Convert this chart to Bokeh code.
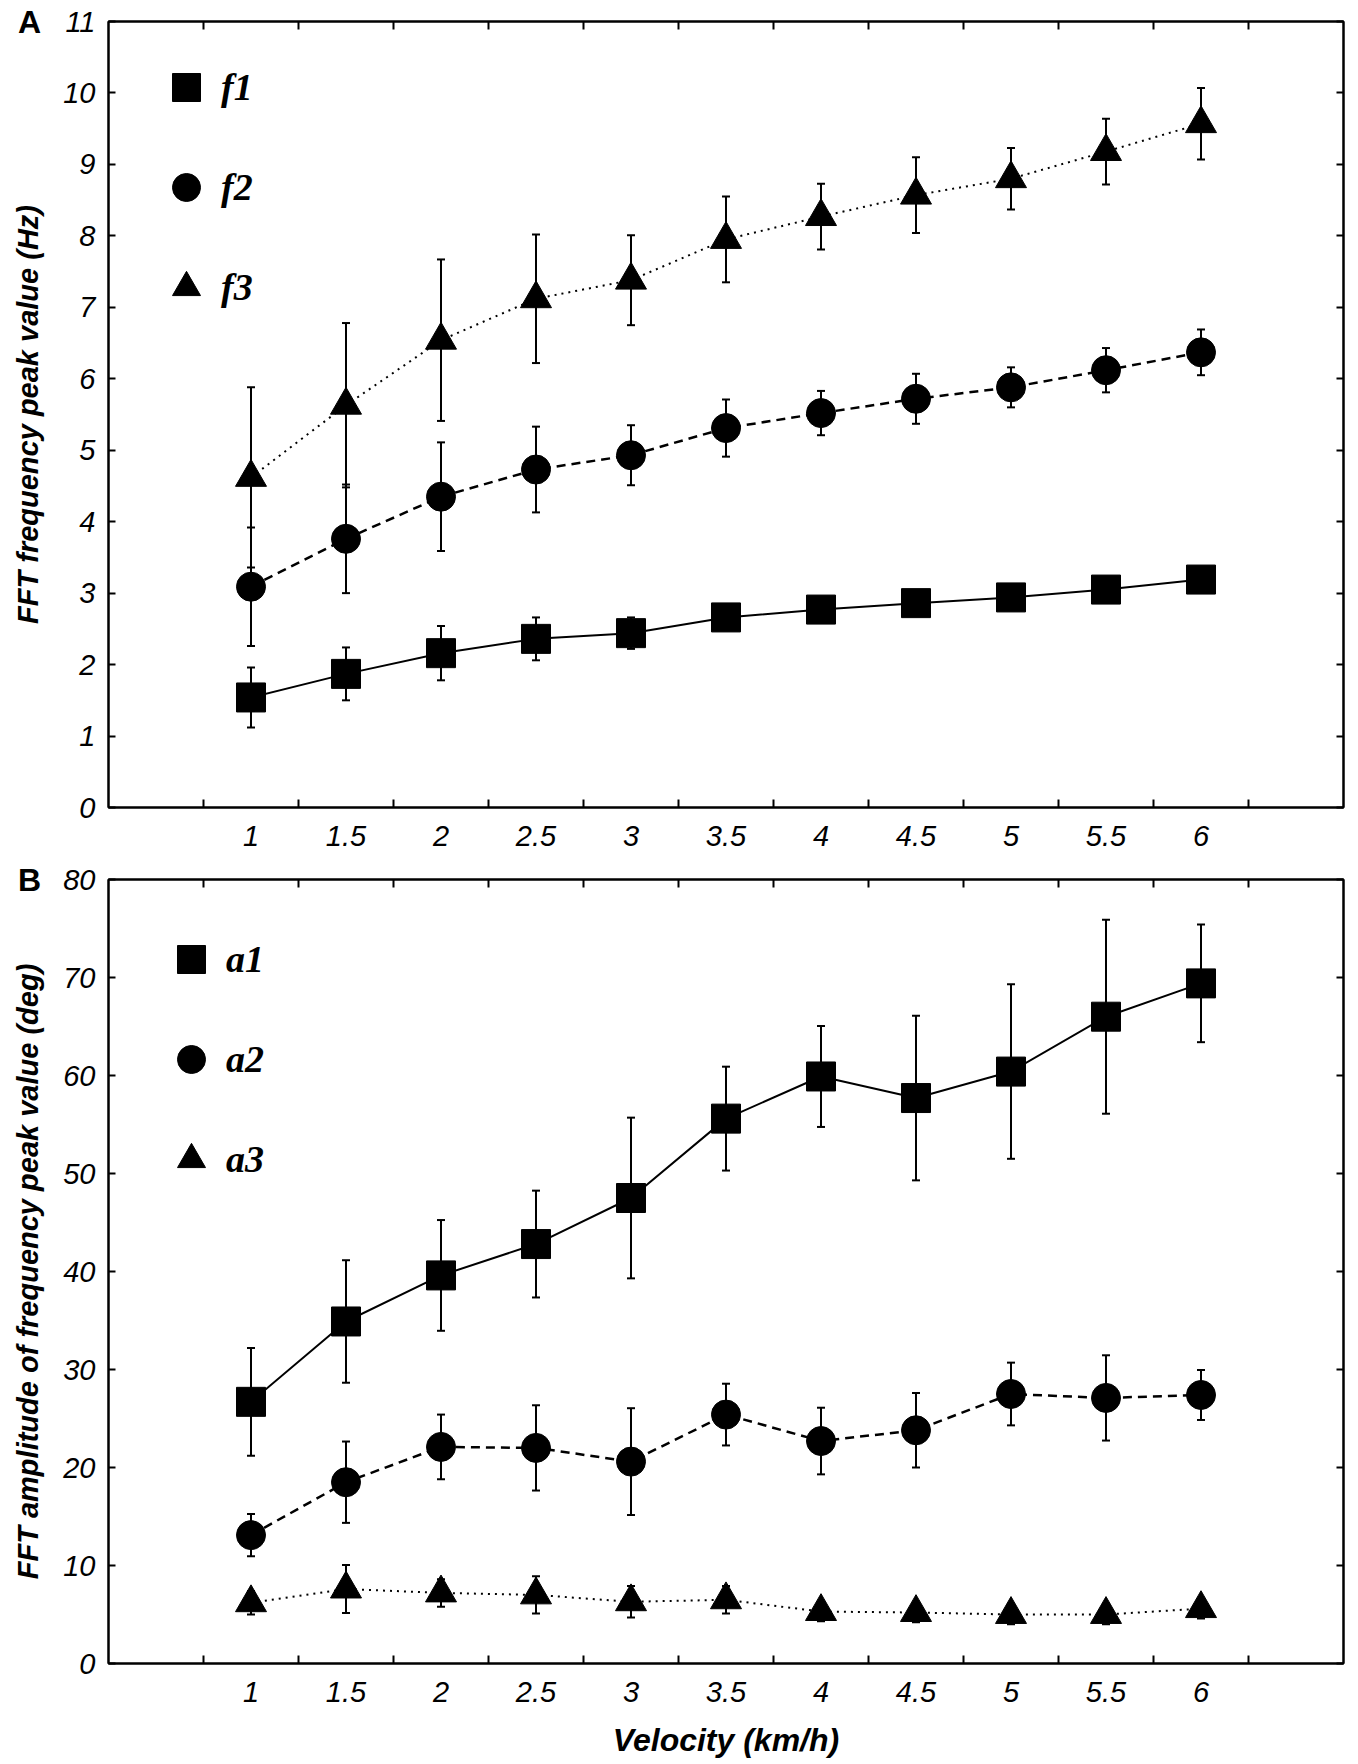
from bokeh.plotting import figure
from bokeh.layouts import column
from bokeh.models import (ColumnDataSource, Range1d, LinearAxis, FixedTicker,
                          CustomJSTickFormatter, Whisker, TeeHead, Legend,
                          LegendItem, Div)
from bokeh.embed import file_html
from bokeh.resources import INLINE

velocity = [1, 1.5, 2, 2.5, 3, 3.5, 4, 4.5, 5, 5.5, 6]

# panel A - FFT frequency peak (Hz)
f1 = [1.54, 1.87, 2.16, 2.36, 2.44, 2.66, 2.77, 2.86, 2.94, 3.05, 3.19]
f1_err = [0.42, 0.37, 0.38, 0.30, 0.22, 0.12, 0.10, 0.10, 0.10, 0.10, 0.10]
f2 = [3.09, 3.76, 4.35, 4.73, 4.93, 5.31, 5.52, 5.72, 5.88, 6.12, 6.37]
f2_err = [0.83, 0.76, 0.76, 0.60, 0.42, 0.40, 0.31, 0.35, 0.28, 0.31, 0.32]
f3 = [4.62, 5.63, 6.54, 7.12, 7.38, 7.95, 8.27, 8.57, 8.80, 9.18, 9.57]
f3_err = [1.26, 1.15, 1.13, 0.90, 0.63, 0.60, 0.46, 0.53, 0.43, 0.46, 0.50]

# panel B - FFT amplitude of frequency peak (deg)
a1 = [26.7, 34.9, 39.6, 42.8, 47.5, 55.6, 59.9, 57.7, 60.4, 66.0, 69.4]
a1_err = [5.5, 6.25, 5.65, 5.45, 8.2, 5.3, 5.15, 8.4, 8.9, 9.9, 6.0]
a2 = [13.1, 18.5, 22.1, 22.0, 20.6, 25.4, 22.7, 23.8, 27.5, 27.1, 27.4]
a2_err = [2.15, 4.15, 3.3, 4.35, 5.45, 3.15, 3.4, 3.8, 3.2, 4.35, 2.55]
a3 = [6.2, 7.6, 7.2, 7.0, 6.3, 6.5, 5.3, 5.2, 5.0, 5.0, 5.6]
a3_err = [1.2, 2.45, 1.4, 1.9, 1.6, 1.4, 1.0, 1.0, 1.0, 1.0, 1.0]

# tick marks sit between the velocity categories
boundaries = [v - 0.25 for v in velocity] + [velocity[-1] + 0.25]

SANS = "Liberation Sans"
SERIF = "Liberation Serif"
TICK_SIZE = "29px"


def hiddenAxis(ticks, tick_len):
    ax = LinearAxis(ticker=FixedTicker(ticks=ticks),
                    major_tick_in=tick_len, major_tick_out=0,
                    minor_tick_in=0, minor_tick_out=0,
                    major_tick_line_width=2, axis_line_width=2,
                    major_label_text_color=None,
                    major_label_text_font_size="1px",
                    major_label_standoff=0)
    return ax


def drawPanel(series, y_max, y_step, y_title, height, top, bottom,
              legend_loc, x_title=None):
    p = figure(width=1350, height=height,
               x_range=Range1d(velocity[0] - 0.75, velocity[-1] + 0.75),
               y_range=Range1d(0, y_max),
               output_backend="svg", toolbar_location=None, tools="",
               min_border_left=108, min_border_right=7,
               min_border_top=top, min_border_bottom=bottom)
    p.xgrid.visible = False
    p.ygrid.visible = False
    p.outline_line_color = "black"
    p.outline_line_width = 2
    p.background_fill_color = "white"
    p.border_fill_color = "white"

    y_ticks = list(range(0, y_max + 1, y_step))

    # bottom axis: labels at categories, ticks at boundaries
    xa = p.xaxis[0]
    xa.ticker = FixedTicker(ticks=velocity, minor_ticks=boundaries)
    xa.formatter = CustomJSTickFormatter(code="return tick.toString()")
    xa.major_tick_in = 0
    xa.major_tick_out = 0
    xa.minor_tick_in = 8
    xa.minor_tick_out = 0
    xa.minor_tick_line_width = 2
    xa.minor_tick_line_color = "black"
    xa.axis_line_width = 2
    xa.axis_line_color = "black"
    xa.major_label_text_font = SANS
    xa.major_label_text_font_style = "italic"
    xa.major_label_text_font_size = TICK_SIZE
    xa.major_label_text_color = "black"
    xa.major_label_standoff = 18
    if x_title:
        xa.axis_label = x_title
        xa.axis_label_text_font = SANS
        xa.axis_label_text_font_style = "bold italic"
        xa.axis_label_text_font_size = "32px"
        xa.axis_label_text_color = "black"
        xa.axis_label_standoff = 17

    ya = p.yaxis[0]
    ya.ticker = FixedTicker(ticks=y_ticks)
    ya.major_tick_in = 7
    ya.major_tick_out = 0
    ya.minor_tick_in = 0
    ya.minor_tick_out = 0
    ya.major_tick_line_width = 2
    ya.axis_line_width = 2
    ya.axis_line_color = "black"
    ya.major_label_text_font = SANS
    ya.major_label_text_font_style = "italic"
    ya.major_label_text_font_size = TICK_SIZE
    ya.major_label_text_color = "black"
    ya.major_label_standoff = 13
    ya.axis_label = y_title
    ya.axis_label_text_font = SANS
    ya.axis_label_text_font_style = "bold italic"
    ya.axis_label_text_font_size = "29px"
    ya.axis_label_text_color = "black"
    ya.axis_label_standoff = 16

    p.add_layout(hiddenAxis(boundaries, 8), "above")
    p.add_layout(hiddenAxis(y_ticks, 7), "right")

    items = []
    for name, vals, errs, marker, msize, dash, lw in series:
        src = ColumnDataSource(data={
            'x': velocity,
            'y': vals,
            'upper': [v + e for v, e in zip(vals, errs)],
            'lower': [v - e for v, e in zip(vals, errs)],
        })
        p.line('x', 'y', source=src, line_color="black", line_width=lw,
               line_dash=dash)
        p.add_layout(Whisker(source=src, base='x', upper='upper', lower='lower',
                             line_color="black", line_width=2,
                             upper_head=TeeHead(size=8, line_width=2, line_color="black"),
                             lower_head=TeeHead(size=8, line_width=2, line_color="black")))
        r = p.scatter('x', 'y', source=src, marker=marker, size=msize,
                      fill_color="black", line_color="black")
        items.append(LegendItem(label=name, renderers=[r]))

    legend = Legend(items=items, location=legend_loc, margin=0, padding=0,
                    glyph_width=70, glyph_height=70, spacing=30,
                    label_standoff=0,
                    label_text_font=SERIF, label_text_font_style="bold italic",
                    label_text_font_size="38px", label_text_color="black",
                    border_line_color=None, background_fill_alpha=0)
    p.add_layout(legend)
    return p


def panelLetter(letter, left, top):
    html = ('<span style="font-family:\'Liberation Sans\' !important;'
            'font-weight:700 !important;font-size:32px !important;'
            'line-height:32px !important;color:black">%s</span>' % letter)
    return Div(text=html, width=44, height=40,
               stylesheets=[":host { font-size: 32px !important; }"],
               styles={"position": "absolute", "left": "%dpx" % left,
                       "top": "%dpx" % top, "margin": "0", "padding": "0",
                       "font-family": "Liberation Sans", "font-weight": "bold",
                       "font-size": "32px", "line-height": "32px",
                       "color": "black"})


seriesA = [
    ("f1", f1, f1_err, "square", 29, "solid", 2),
    ("f2", f2, f2_err, "circle", 29, "9 6", 2.5),
    ("f3", f3, f3_err, "triangle", 31, "2 5", 2),
]
seriesB = [
    ("a1", a1, a1_err, "square", 29, "solid", 2),
    ("a2", a2, a2_err, "circle", 29, "9 6", 2.5),
    ("a3", a3, a3_err, "triangle", 31, "2 5", 2),
]

graphA = drawPanel(seriesA, 11, 1, "FFT frequency peak value (Hz)",
                   height=860, top=21, bottom=53, legend_loc=(43, 485))
graphB = drawPanel(seriesB, 80, 10, "FFT amplitude of frequency peak value (deg)",
                   height=900, top=19, bottom=97, legend_loc=(48, 469),
                   x_title="Velocity (km/h)")

layout = column(graphA, graphB, panelLetter("A", 18, 6), panelLetter("B", 18, 864))
open("out.html", "w").write(file_html(layout, INLINE))
